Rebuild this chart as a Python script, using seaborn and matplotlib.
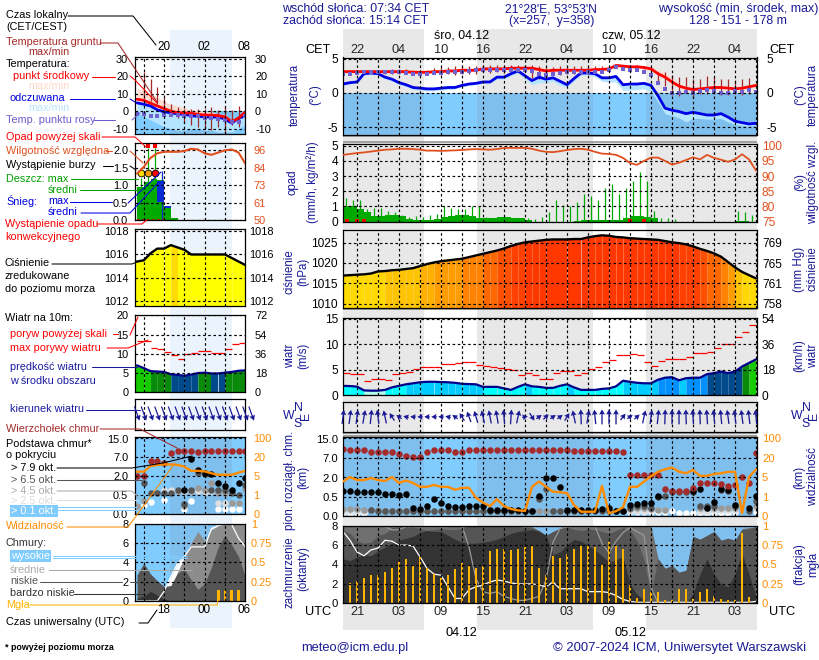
#!/usr/bin/env python3
import numpy as np
import matplotlib
matplotlib.use('Agg')
import matplotlib.pyplot as plt
from matplotlib.lines import Line2D
import seaborn as sns

W, H = 820, 660
nan = float('nan')

# --- main meteogram, hourly from 19 UTC
hours = list(range(60))
temp_mid = [3.1,3.1,3.1,3.1,3.1,3.1,3.1,3.1,3.1,3.1,3.0,3.0,3.0,3.1,3.1,3.2,3.2,3.3,3.3,3.3,
            3.5,3.5,3.5,3.5,3.6,3.6,3.6,3.6,3.4,3.2,3.3,3.3,3.3,3.3,3.3,3.3,3.4,3.4,3.5,4.0,
            3.9,3.8,3.8,3.7,3.5,2.8,2.3,1.6,1.0,0.7,0.5,0.6,0.7,0.8,0.8,0.7,0.6,0.7,0.9,1.1]
temp_hi = [3.3,3.3,3.3,3.3,3.3,3.3,3.3,3.3,3.3,3.3,3.2,3.2,3.2,3.3,3.3,3.4,3.4,3.5,3.5,3.5,
           3.7,3.7,3.7,3.8,3.9,3.9,3.9,3.9,3.8,3.5,3.6,3.6,3.6,3.6,3.6,3.6,3.7,3.7,3.8,4.2,
           4.1,4.0,4.0,3.9,3.8,3.4,3.0,2.2,1.4,1.0,0.7,0.8,0.9,1.0,1.0,0.9,0.8,0.9,1.1,1.3]
feels = [1.3,1.5,1.6,2.8,2.9,2.8,2.3,2.0,1.5,1.2,0.8,0.7,0.6,0.6,0.7,0.8,0.8,1.1,1.3,1.4,
         1.6,1.6,2.3,2.3,2.8,3.2,2.5,1.8,2.3,2.0,2.2,1.7,1.2,2.1,2.9,2.9,2.8,2.2,2.2,2.4,
         1.2,1.3,1.3,1.4,1.1,-0.4,-2.2,-2.5,-2.7,-3.0,-2.8,-3.0,-3.2,-3.2,-3.0,-3.5,-4.1,-4.3,-4.5,-4.4]
feels_lo = [1.1,1.3,1.4,2.6,2.7,2.6,2.0,1.7,1.2,0.9,0.5,0.4,0.3,0.3,0.4,0.5,0.6,0.9,1.1,1.2,
            1.4,1.4,2.0,2.0,2.5,2.9,2.0,1.2,1.5,1.5,1.7,1.1,0.8,1.7,2.6,2.6,2.4,1.7,1.6,1.6,
            0.4,0.4,0.5,0.6,0.2,-1.3,-3.0,-3.3,-3.6,-4.2,-3.7,-3.7,-3.8,-3.8,-3.7,-4.2,-4.6,-4.7,-4.8,-4.6]
dew = [2.7,2.7,2.9,3.0,3.0,3.0,3.0,3.0,3.0,2.9,2.8,2.8,2.8,2.9,2.9,3.0,3.1,3.1,3.2,3.3,
       3.4,3.4,3.4,3.4,3.4,3.4,3.4,3.2,2.7,2.6,2.7,2.9,3.0,3.0,3.0,3.0,3.1,3.1,3.3,3.7,
       3.5,3.4,3.3,3.1,2.6,1.5,0.6,0.0,0.0,0.1,0.0,0.3,0.4,0.3,0.0,0.0,0.3,0.2,0.4,0.2]
ground_max = [nan,nan,nan,nan,nan,nan,3.4,3.5,3.5,3.5,3.3,3.3,3.3,3.6,3.7,3.8,3.9,3.9,3.9,3.9,
              4.0,4.0,4.0,4.0,4.0,4.0,4.0,4.1,3.9,3.7,3.8,3.9,3.9,3.9,3.9,3.9,3.9,3.9,3.8,4.2,
              4.1,4.0,4.0,3.9,3.7,3.0,3.0,2.6,2.3,2.3,2.1,2.0,2.4,2.3,2.0,2.0,1.9,2.1,2.2,nan]
ground_min = [nan,nan,nan,nan,nan,nan,2.8,2.7,2.8,2.7,2.7,2.7,2.8,2.7,2.6,2.7,2.6,2.7,2.8,2.8,
              3.0,2.9,3.0,2.9,3.0,3.0,3.0,2.2,2.1,2.6,2.6,2.6,2.7,2.7,2.8,2.7,2.9,2.9,3.1,3.8,
              3.7,3.6,3.6,3.5,3.2,1.5,1.0,-0.3,-0.5,0.0,-0.8,-0.2,-0.2,-0.2,-0.3,-0.3,-0.2,-0.3,-0.2,nan]

rain_avg = [1.05,1.05,0.8,0.6,0.35,0.35,0.4,0.4,0.35,0.15,0.1,0.1,0.1,0.15,0.3,0.35,0.4,0.4,0.35,0.25,
            0.2,0.25,0.3,0.3,0.25,0.2,0.08,0,0,0,0,0,0,0.05,0.1,0.1,0.1,0.1,0.1,0.12,
            0.2,0.35,0.38,0.3,0.2,0,0,0,0,0,0,0,0,0,0,0,0.05,0.05,0,0]
rain_max = [1.55,1.4,1.45,0.8,0.9,0.9,0.7,0.6,0.45,0.3,0.35,0.3,0.4,0.5,1.0,0.9,0.8,0.8,1.0,1.0,
            0.3,0.2,0.2,0.15,0.2,0.15,0.2,0.15,0.3,0.6,1.4,1.1,1.05,1.3,1.8,1.7,1.45,2.2,2.5,1.8,
            2.2,2.7,3.3,2.7,0.7,0.2,0.2,0.15,0,0,0,0,0,0,0,0,0.7,0.65,0.4,0]
conv_t = [0.5, 2, 3, 41, 43]
humidity = [97,97.3,97.6,97.8,98.1,98.4,98.7,98.8,99,99,98.9,98.7,98.4,98.4,98.3,98.4,98.5,98.6,98.8,98.9,
            98.8,98.7,98.9,99.3,99.3,99.3,99.3,99,98.4,98,97.9,98.2,98.6,98.9,99,98.7,98,97.4,97.3,97,
            96,94.3,93.7,95,96.1,96.1,95,93.8,94.4,95.3,96.2,95.5,97,96,95.4,94.7,95.5,97.2,95.5,91.8]
pressure = [1016.9,1017,1017.1,1017.2,1017.4,1017.9,1018,1018.2,1018.3,1018.5,1018.7,1019.2,1019.7,1020.1,1020.4,
            1020.6,1020.8,1021,1021.4,1021.8,1022.2,1022.6,1023,1023.5,1024.1,1024.6,1025,1025.2,1025.4,1025.6,
            1025.7,1025.7,1025.7,1025.8,1025.8,1026.2,1026.5,1026.7,1026.6,1026.3,1026.2,1026,1025.9,1025.8,1025.7,
            1025.6,1025.3,1025,1024.8,1024.5,1024,1023.4,1022.9,1022.3,1021.5,1020.2,1018.9,1017.8,1017,1016.2]
wind = [1.8,1.75,1.65,0.9,0.85,0.85,1.0,1.5,1.8,2.1,2.3,2.5,2.6,2.6,2.55,2.5,2.4,2.2,2.15,2.1,
        1.6,1.6,1.6,1.3,1.0,1.6,2.1,1.7,1.6,1.4,1.4,1.8,2.1,1.5,1.0,1.0,1.0,1.2,1.3,1.7,
        2.8,2.6,2.4,2.3,2.3,3.0,3.4,3.5,2.9,3.3,3.4,3.4,4.1,4.3,4.6,4.3,4.6,5.6,6.3,7.0]
gust = [4.3,4.1,4.1,2.8,3.1,3.1,2.9,4.1,4.3,4.5,5.1,5.5,5.5,5.5,6.1,6.1,6.3,6.5,6.5,5.9,
        5.7,5.5,5.3,5.1,4.9,4.0,4.3,3.9,3.2,3.2,4.3,4.7,4.7,3.9,4.3,5.1,5.5,6.5,6.8,7.8,
        7.8,8.0,7.8,6.5,5.7,6.7,7.0,7.0,7.0,7.4,8.2,8.2,8.5,9.2,10,10,11.4,12.4,13.8]
wind_dir = [20,20,20,25,15,-20,-30,-60,-75,-85,-88,-90,-90,-90,-88,-85,-75,-60,-45,-38,
            -32,-28,-25,-12,10,30,85,120,75,70,75,75,60,-30,-5,25,-15,0,0,0,
            65,75,72,30,20,15,5,0,0,-5,-10,-5,-10,-15,-15,-20,-20,-20,-18,-15]

cloud_top = [10.8,10.4,10.4,10.4,9.7,9.5,9.5,9.5,8.8,8.1,7.7,7.4,9.7,10.4,10.4,10.4,9.7,9.7,10.4,10.4,
             10.4,10.4,10.4,10.4,10.4,10.4,10.4,10.4,10.4,10.4,10.3,10.3,10.3,10,10,10,10,10,10,10,
             9.7,2.7,2.7,2.7,2.7,2.7,1.13,0.93,0.93,0.93,1.2,1.6,1.6,1.6,1.5,1.34,1.45,2.1,1.6,9.3]
base_79 = [0.95,0.95,0.9,0.9,0.9,0.9,0.75,0.7,0.65,0.7,0.22,0.19,0.26,0.44,0.33,0.27,0.24,0.23,0.25,0.26,
           0.25,0.15,0.15,0.15,0.15,0.15,0.13,0.13,0.55,2.0,2.0,1.3,0.15,0.15,0.15,0.15,0.15,0.17,0.22,0.14,
           0.14,0.28,0.3,0.33,0.33,0.54,nan,nan,nan,nan,0.93,1.1,0.22,0.37,1.1,1.0,0.28,nan,0.2,0.56]
base_65 = [nan,nan,nan,nan,0.15,0.13,0.13,0.13,0.13,0.13,0.13,0.13,0.13,0.13,0.13,0.13,0.13,0.13,0.13,0.13,
           0.13,0.13,0.13,0.13,0.13,0.13,0.13,0.13,0.45,1.1,0.13,0.13,0.13,0.13,0.13,0.13,0.13,0.13,0.13,0.13,
           0.13,0.22,0.25,0.25,0.2,0.5,0.55,0.85,0.85,0.85,0.85,0.25,0.25,0.25,1.0,0.95,0.25,nan,0.13,0.4]
base_45 = [0.17,0.18,0.17,0.16,0.15,0.15,0.14,0.14,0.14,0.14,0.14,0.14,0.14,0.14,0.14,0.14,0.14,0.14,0.14,0.14,
           0.14,0.14,0.14,0.14,0.14,0.14,0.14,0.14,0.14,0.14,0.14,0.14,0.14,0.14,0.14,0.14,0.14,0.14,0.14,0.14,
           0.14,0.17,0.2,0.2,0.17,0.16,0.16,nan,nan,nan,nan,0.2,0.2,0.2,0.2,0.2,0.2,nan,nan,0.25]
base_25 = [0.12,0.12,0.12,0.12,nan,nan,nan,nan,nan,nan,nan,nan,nan,nan,nan,nan,nan,nan,nan,nan,
           nan,nan,nan,nan,nan,nan,nan,nan,nan,nan,nan,nan,nan,nan,nan,nan,nan,nan,nan,nan,
           nan,0.14,0.14,0.14,0.15,0.15,0.15,nan,nan,nan,nan,0.14,0.14,0.15,0.15,0.15,0.15,nan,nan,0.2]
base_01 = [0.08,0.08,0.08,0.08,nan,nan,nan,nan,nan,nan,nan,nan,nan,nan,nan,nan,nan,nan,nan,nan,
           nan,nan,nan,nan,nan,nan,nan,nan,nan,nan,nan,nan,nan,nan,nan,nan,nan,nan,nan,nan,
           nan,0.1,0.1,0.1,0.1,0.1,0.1,0.12,0.08,0.08,0.09,0.08,0.08,0.08,0.08,0.08,0.1,nan,nan,0.1]
visib = [4.1,5.1,4.4,4.4,4.8,4.4,4.2,5.1,3.8,4.3,3.8,3.0,3.0,3.4,3.0,3.0,2.4,2.8,2.8,0.94,
         0.69,0.51,0.86,0.51,0.36,0.29,0.26,3.0,4.1,3.0,2.0,1.9,1.7,0.57,0.22,0.22,0.22,3.2,0.14,0.25,
         0.45,3.0,3.0,4.1,5.7,9.2,11,12.4,9.2,8,10.5,6,6,7.4,8,9,9,0.14,5.1,11]

cloud_top_fill = [8,8,8,8,8,8,8,8,8,8,8,8,8,8,8,8,8,8,8,8,
                  8,8,8,8,8,8,8,7.9,7.5,7.0,7.4,7.8,8,8,8,8,8,8,8,8,
                  8,8,8,8,8,4.6,3.6,3.9,3.2,3.4,6.9,6.6,7.0,7.4,6.5,6.7,6.5,7.7,7.8,7.9]
cloud_low = [7.5,7.2,6.4,6.2,6.3,7.0,7.2,7.8,7.9,7.9,7.9,7.7,7.5,7.6,7.7,7.6,7.6,7.7,8,8,
             8,8,8,8,7.9,7.9,7.8,7.8,7.5,7.0,7.4,7.7,7.9,7.6,7.5,7.6,7.6,7.4,7.2,7.5,
             7.8,7.5,6.5,4.5,1.0,4.6,3.6,3.9,3.2,3.4,6.9,6.6,7.0,7.4,6.5,6.7,6.5,7.6,7.7,7.9]
cloud_vlow = [4.6,4.4,4.8,5,4.9,5.4,5.8,6.2,6.5,6.7,6.9,7.3,7.5,7.4,7.4,7.0,6.6,6.3,6.2,6.2,
              6.3,6.4,6.6,6.9,7.2,7.4,7.5,7.6,7.4,7.0,5,5.3,6,6.6,6.4,6,5.5,4.9,4.2,4.5,
              4.8,2,0.9,0.4,0,0,0,0,0,0,1,3,4.6,3,2,1.7,3,5.2,3,0.7]
high_line = [7.4,6.5,5.3,4.9,5.5,5.7,6.5,6.4,6.0,6.0,5.9,4.8,3.6,3.0,2.9,1.7,0.5,0.5,1.4,1.7,
             1.9,2.2,2.4,2.3,2.1,2.0,2.0,2.0,1.9,1.7,2.2,1.5,1.5,1.5,1.5,1.2,1.2,1.2,1.1,0.8,
             0.4,0.2,0.1,0.1,0.1,0.1,0.1,0.1,0.1,0.1,0.1,0.1,0.1,0.1,0.1,0.1,0.1,0.1,0.1,0.2]
mid_line = [8,8,8,8,8,8,7.9,7.55,7.6,7.9,7.9,7.9,7.9,7.9,7.9,7.9,8,8,5.8,2.5,
            1.2,1.0,1.2,0.7,0.5,0.3,0.3,0.5,0.7,2.4,6.3,7.7,7.9,7.9,7.9,7.9,7.9,6.2,5.2,6.4,
            7.3,7.8,7.4,7.0,1.7,0,0,0,0,0,0,0,0,0,0,0,0,0,0,0]
fog = [0.23,0.26,0.29,0.32,0.36,0.37,0.4,0.45,0.53,0.57,0.48,0.6,0.46,0.38,0.33,0.36,0.44,0.52,0.48,0.45,
       0.48,0.67,0.7,0.7,0.69,0.7,0.72,0.74,0.45,0.36,0.61,0.58,0.64,0.7,0.74,0.74,0.73,0.49,0.79,0.74,
       0.7,0.25,0.07,0.19,0.15,0.14,0.04,0.04,0.19,0.19,0.06,0.14,0.18,0.1,0.06,0.04,0.04,0.9,0.08,0]

# --- small key panels, hourly from 14 UTC
key_hours = list(range(17))
key_mid = [6.9,6.2,4.6,3,1.5,0,-0.8,-1,-1.2,-1.8,-2.2,-2.3,-2.5,-3.3,-6,-4,-0.4]
key_hi = [13,12,10,8,6,4,3,2,1,0.5,0,-0.5,-1.5,-2.5,-5,-3,0.5]
key_feels = [4.8,4,3,0.8,-0.3,-1,-1.5,-1.8,-2.5,-3,-3.2,-3.4,-3.4,-4.5,-6.9,-4,-2.8]
key_feels_lo = [-1,-3,-5,-7,-9,-10,-11,-11,-10,-10,-11,-11,-12,-12,-12,-10,-8]
key_dew = [-1.5,-1.5,-2.5,-2.5,-2,-2,-2,-2.5,-3,-3,-4,-4,-4.5,-5,-6,-6,-3]
key_ground_max = [nan,22.6,18.8,14,8,4.4,2.5,1.5,1.5,1.5,1.5,2.5,0.5,2.5,0.5,3,nan]
key_ground_min = [nan,7,6,4,0,-2.3,-4.2,-7,-8,-9,-10,-11,-9,-13,-8,-9,nan]
key_rain = [0.96,1.1,1.18,1.15,0.38,0.07,0,0,0,0,0,0,0,0,0,0,0]
key_humid = [80.6,85,91,94,95,95,95,95.5,97,96.5,94,93,94.5,96,96.5,94.5,87.2]
key_press = [1015.4,1015.5,1016.1,1016.5,1016.5,1016.8,1016.6,1016.4,1016,1016,1016,1016,1016,1016,1015.7,1015.4,1015.1]
key_wind = [7,6.3,5.5,5.4,5.3,4.7,4.5,4.3,4.6,5,5.1,4.9,4.9,5.1,5.3,5.6,5.7]
key_gust = [13.4,13.4,11.6,11.3,10.5,9.6,8.7,9.9,10.3,10.7,10.7,10.3,10.2,11.3,12.6,12.9]
key_dir = [160]*18
key_top = [2,2,6,6,5.6,8.8,9.6,9.6,9.6,9.2,9.7,9.7,9.6,9.6,9.6,9.6,9.6]
key_79 = [nan,nan,nan,nan,nan,nan,nan,0.9,6.7,3.7,3,2.7,1.5,1.2,0.9,1.5,1.85]
key_65 = [nan,1.5,0.67,0.67,0.67,0.67,0.9,0.27,0.9,3,2.6,0.9,0.9,0.9,0.65,0.5,1.3]
key_45 = [0.2,0.35,nan,nan,nan,nan,0.85,0.2,0.8,1.1,0.9,1.5,0.65,0.65,0.3,0.3,1]
key_25 = [0.2,nan,nan,nan,0.9,0.9,0.85,0.85,0.85,0.8,0.75,0.8,0.3,0.3,0.3,0.3,nan]
key_01 = [nan,0.23,0.33,nan,0.38,nan,nan,0.12,0.35,nan,nan,nan,0.12,0.12,0.12,0.12,nan]
key_vis = [8.3,8.3,12.7,13.5,14,14,13.5,12.2,8.9,8.9,8.5,7,5.8,5.8,5.8,7.5,8.9]
key_top_fill = [0,0,0,0,0,1.4,3,4.5,6,7.2,6.2,7.4,7.8,8,8,7.9,7.9]
key_low = [2.7,3.9,2.8,2.1,1.5,1.6,2.9,3.3,2.2,1.2,1.8,3.5,5.6,6.8,5.8,4.6,2.5]
key_vlow = [0.3,0.5,1,0.6,0.2,0,0,0,0,0,0,0,0,0,0,0,0]
key_high = [0,0,0,0,1.0,2.5,3.9,4.6,5.6,5.6,5.6,7.5,7.8,8,7.9,6.5,5.6]
key_fog = [0,0,0,0,0,0,0,0,0,0,0,0,0.14,0.14,0.14,0.14,0]

# axis labels
local_main = ['22','04','10','16','22','04','10','16','22','04']
utc_main = ['21','03','09','15','21','03','09','15','21','03']

sns.set_theme(style='white')
plt.rcParams['font.family'] = ['Liberation Sans', 'DejaVu Sans']
plt.rcParams['axes.linewidth'] = 0.9

fig = plt.figure(figsize=(W / 100, H / 100), dpi=100, facecolor='white')
bg = fig.add_axes([0, 0, 1, 1], zorder=-5)
bg.set_xlim(0, W)
bg.set_ylim(H, 0)
bg.axis('off')
# night bands behind all panels
for x0, x1 in [(343, 424), (477, 593), (646, 757)]:
    bg.fill_between([x0, x1], 29, 630, color='#e8e8e8', lw=0)
bg.fill_between([170, 232], 30, 628, color='#ebf3fc', lw=0)
# grey shadow rims of the main panels
for yy in [136.2, 142.4, 309.3, 433.2, 436.2]:
    bg.hlines(yy, 343, 757, color='#8c8c8c', lw=1.1)

NAVY = '#1a1a96'
ORANGE = '#ff8c00'
HUM = '#e0501e'
BROWN = '#a52a2a'
DAY, NIGHT = '#80ccff', '#7fbfee'
main_night = [(0, 11.6), (19.1, 35.7), (43.3, 60)]
key_night = [(4.9, 14)]

km_breaks = [0, 0.5, 2, 7, 15, 19]
vis_breaks = [0, 1, 5, 20, 100, 180]
idx_breaks = [0, 1, 2, 3, 4, 5]


def rect(l, t, r, b):
    return [l / W, 1 - b / H, (r - l) / W, (b - t) / H]


def panel(box, xlim, xticks, ylim, yticks, ylabels, ylim2, yticks2, ylabels2,
          color2='black', fs=8.6, padl=3.6, padr=3.6):
    ax = fig.add_axes(rect(*box))
    ax.patch.set_visible(False)
    ax2 = fig.add_axes(rect(*box), sharex=ax)
    ax2.patch.set_visible(False)
    ax.set_xlim(*xlim)
    ax.set_ylim(*ylim)
    ax.set_yticks(yticks)
    ax.set_yticklabels(ylabels, fontsize=fs)
    ax2.set_ylim(*ylim2)
    ax2.set_yticks(yticks2)
    ax2.set_yticklabels(ylabels2, fontsize=fs, color=color2)
    ax2.yaxis.tick_right()
    ax.tick_params(axis='y', length=0, pad=padl, colors='black')
    ax2.tick_params(axis='y', length=0, pad=padr)
    ax2.set_xticks(xticks)
    ax2.tick_params(axis='x', length=0, labelbottom=False, labelsize=9.2)
    ax.tick_params(axis='x', length=0, labelbottom=False)
    ax2.set_axisbelow(False)
    ax2.grid(True, color='black', lw=0.85, ls=(0, (2.2, 2.2)))
    for s in ax.spines.values():
        s.set_visible(False)
    for s in ax2.spines.values():
        s.set_color('black')
    return ax, ax2


def blue_below(ax, x0, x1, lo, hi, nights):
    ax.fill_between([x0, x1], lo, hi, color=DAY, lw=0, zorder=0.2)
    for a, b in nights:
        ax.fill_between([a, min(b, x1)], lo, hi, color=NIGHT, lw=0, zorder=0.3)


def line(ax, x, y, color, lw=2.0, z=3):
    sns.lineplot(x=x, y=y, ax=ax, color=color, lw=lw, legend=False, zorder=z, errorbar=None, sort=False)
    ax.set_xlabel('')
    ax.set_ylabel('')


def dots(ax, x, y, color, size=20, marker='o', z=3):
    sns.scatterplot(x=x, y=y, ax=ax, color=color, s=size, marker=marker, linewidth=0, legend=False, zorder=z)
    ax.set_xlabel('')
    ax.set_ylabel('')


def temp_panel(ax, x, mid, hi, fl, fl_lo, dw, g_max, g_min, gw=0.9):
    ax.fill_between(x, mid, hi, color='#ffdcd0', lw=0, zorder=1)
    ax.fill_between(x, mid, [m - 0.2 for m in mid], color='#ffdcd0', lw=0, zorder=1)
    ax.fill_between(x, fl, fl_lo, color='#b4e4ff', lw=0, zorder=1.2)
    x2 = [a for a, b in zip(x, g_max) if b == b]
    ax.vlines(x2, [b for b in g_min if b == b], [b for b in g_max if b == b], color=BROWN, lw=gw, zorder=2)
    line(ax, x, fl, '#0000e6')
    line(ax, x, mid, '#ff0000')
    dots(ax, x, dw, '#7060d0', size=7, marker='s', z=4)


pressure_bins = [1016.7, 1017, 1018, 1019, 1020, 1021, 1022, 1023, 1024, 1025]
pressure_cols = ['#ffff00', '#ffdc00', '#ffd800', '#ffc400', '#ffb000', '#ff9c00', '#ff8200',
                 '#ff6800', '#ff5000', '#ff4000', '#ff3800']
wind_bins = [1, 2, 3, 4, 5, 6]
wind_cols = ['#b0ffee', '#00ffff', '#00ccff', '#0090ff', '#004a8c', '#0a8a0a', '#14cc00']


def columns(ax, x, y, base, bins, cols):
    for i in range(len(x) - 1):
        c = cols[int(np.digitize(y[i], bins))]
        ax.fill_between([x[i], x[i + 1]], base, [y[i], y[i + 1]], color=c, lw=0, zorder=1, antialiased=False)


def cloud_base_panel(ax, ax2, x, top, b79, b65, b45, b25, b01, vis, s=22):
    for yy, c in [(b01, 'white'), (b25, '#dddddd'), (b45, '#999999'), (b65, '#555555'), (b79, 'black')]:
        dots(ax, x, yy, c, size=s)
    dots(ax, x, top, BROWN, size=s)
    line(ax2, x, vis, ORANGE, lw=1.7)


def cloud_panel(ax, ax2, x, top, low, vlow, high, mid, fg, colors, bw, high_fill=None):
    if high_fill is not None:
        ax.fill_between(x, 0, high_fill, color='white', lw=0, zorder=1)
    ax.fill_between(x, 0, top, color=colors[0], lw=0, zorder=1.1)
    ax.fill_between(x, 0, low, color=colors[1], lw=0, zorder=1.2)
    ax.fill_between(x, 0, vlow, color=colors[2], lw=0, zorder=1.3)
    if mid is not None:
        line(ax, x, mid, '#999999', lw=0.9, z=2)
    line(ax, x, high, 'white', lw=0.9, z=2.1)
    ax2.bar(x, fg, width=bw, color='#ffb400', lw=0, zorder=1.5)


# ---------- main column ----------
MX0, MX1 = 343, 757
mxlim = (0, 59.14)
mticks = list(range(2, 60, 3))


def tick_words(words):
    out = []
    for i in range(len(mticks)):
        out.append(words[i // 2] if i % 2 == 0 and i // 2 < len(words) else '')
    return out


ax, ax2 = panel((MX0, 57.5, MX1, 135), mxlim, mticks, (-6.1, 5.15), [-5, 0, 5], ['-5', '0', '5'],
                (-6.1, 5.15), [-5, 0, 5], ['-5', '0', '5'], padr=7)
blue_below(ax, 0, 59.14, -6.1, 0, main_night)
temp_panel(ax, hours, temp_mid, temp_hi, feels, feels_lo, dew, ground_max, ground_min)
ax2.tick_params(axis='x', labeltop=True, pad=1)
ax2.set_xticklabels(tick_words(local_main))

ax, ax2 = panel((MX0, 143.5, MX1, 221.5), mxlim, mticks, (0, 5.15), [0, 1, 2, 3, 4, 5], list('012345'),
                (75, 100.75), [75, 80, 85, 90, 95, 100], ['75', '80', '85', '90', '95', '100'], color2=HUM)
ax.bar(hours, rain_avg, width=1, align='edge', color='#00aa00', lw=0, zorder=1)
ax.vlines([h + 0.4 for h in hours], 0, rain_max, color='#00aa00', lw=0.9, zorder=1.1)
dots(ax, conv_t, [0.04] * len(conv_t), '#ff0000', size=7, marker='s', z=3)
line(ax2, hours, humidity, HUM, lw=1.3)

ax, ax2 = panel((MX0, 230, MX1, 308), mxlim, mticks, (1009, 1028), [1010, 1015, 1020, 1025],
                ['1010', '1015', '1020', '1025'], (756.8, 771.1), [757.6, 761.3, 765, 768.8],
                ['758', '761', '765', '769'])
columns(ax, hours + [60], pressure + [pressure[-1]], 1009, pressure_bins, pressure_cols)
line(ax, hours, pressure, 'black', lw=1.7)

ax, ax2 = panel((MX0, 317.7, MX1, 395), mxlim, mticks, (0, 15.2), [0, 5, 10, 15], ['0', '5', '10', '15'],
                (0, 54.7), [0, 18, 36, 54], ['0', '18', '36', '54'])
columns(ax, hours, wind, 0, wind_bins, wind_cols)
ax.hlines(gust, hours[:-1], hours[1:], color='#ff0000', lw=0.9, zorder=3)
line(ax, hours, wind, '#00008b', lw=1.6)

ax, ax2 = panel((MX0, 401.7, MX1, 432), mxlim, mticks, (-1, 1), [], [], (-1, 1), [], [])
wr = np.radians(wind_dir)
ax2.quiver(hours, [0] * 60, 5.5 * np.sin(wr), 15 * np.cos(wr), units='dots', scale_units='dots', scale=1,
           width=1.3, headwidth=4.5, headlength=4, headaxislength=3.6, pivot='mid', color='#1a1a96',
           zorder=4, clip_on=False)

ax, ax2 = panel((MX0, 437.3, MX1, 516), mxlim, mticks, (0, 15.4), [0, 0.5, 2, 7, 15],
                ['0.0', '0.5', '2.0', '7.0', '15.0'], (0, 104), [0, 1, 5, 20, 100],
                ['0', '1', '5', '20', '100'], color2=ORANGE)
ax.set_yscale('function', functions=(lambda v: np.interp(v, km_breaks, idx_breaks),
                                     lambda v: np.interp(v, idx_breaks, km_breaks)))
ax2.set_yscale('function', functions=(lambda v: np.interp(v, vis_breaks, idx_breaks),
                                      lambda v: np.interp(v, idx_breaks, vis_breaks)))
ax.set_ylim(0, 15.4)
ax.set_yticks([0, 0.5, 2, 7, 15])
ax.set_yticklabels(['0.0', '0.5', '2.0', '7.0', '15.0'], fontsize=8.1)
ax.minorticks_off()
ax2.set_ylim(0, 104)
ax2.set_yticks([0, 1, 5, 20, 100])
ax2.set_yticklabels(['0', '1', '5', '20', '100'], fontsize=8.1, color=ORANGE)
ax2.minorticks_off()
ax.fill_between([0, 59.14], 0, 15.4, color=DAY, lw=0, zorder=0.2)
for a, b in main_night:
    ax.fill_between([a, min(b, 59.14)], 0, 15.4, color=NIGHT, lw=0, zorder=0.3)
cloud_base_panel(ax, ax2, hours, cloud_top, base_79, base_65, base_45, base_25, base_01, visib)

ax, ax2 = panel((MX0, 525.7, MX1, 603.3), mxlim, mticks, (0, 8), [0, 2, 4, 6, 8], list('02468'),
                (0, 1), [0, 0.25, 0.5, 0.75, 1], ['0', '0.25', '0.5', '0.75', '1'], color2=ORANGE, fs=8.1)
blue_below(ax, 0, 59.14, 0, 8, main_night)
cloud_panel(ax, ax2, hours, cloud_top_fill, cloud_low, cloud_vlow, high_line, mid_line, fog,
            ('#707070', '#555555', '#333333'), 0.42)
ax2.tick_params(axis='x', labelbottom=True, pad=2)
ax2.set_xticklabels(tick_words(utc_main))

# ---------- key column ----------
KX0, KX1 = 135.3, 245.3
kxlim = (-0.25, 16)
kticks = [1, 4, 7, 10, 13]
kfs = 7.9

ax, ax2 = panel((KX0, 57.3, KX1, 134.3), kxlim, kticks, (-13.3, 31), [-10, 0, 10, 20, 30],
                ['-10', '0', '10', '20', '30'], (-13.3, 31), [-10, 0, 10, 20, 30],
                ['-10', '0', '10', '20', '30'], fs=kfs, padl=5, padr=7)
blue_below(ax, -0.25, 16, -13.3, 0, key_night)
temp_panel(ax, key_hours, key_mid, key_hi, key_feels, key_feels_lo, key_dew, key_ground_max, key_ground_min)

ax, ax2 = panel((KX0, 143.3, KX1, 220), kxlim, kticks, (0, 2.2), [0, 0.5, 1, 1.5, 2],
                ['0.0', '0.5', '1.0', '1.5', '2.0'], (50, 100.6), [50, 61.5, 73, 84.5, 96],
                ['50', '61', '73', '84', '96'], color2=HUM, fs=kfs, padl=5, padr=6)
ax.bar(key_hours, key_rain, width=1, align='edge', color='#00aa00', lw=0, zorder=1)
ax.bar([3], [0.6], bottom=[0.53], width=1, align='edge', color='#0a2ad2', lw=0, zorder=1.1)
ax.bar([4], [0.08], bottom=[0.33], width=1, align='edge', color='#0a2ad2', lw=0, zorder=1.1)
ax.vlines([0.6, 1.6, 2.7], 0, [1.2, 2.07, 2.07], color='#00aa00', lw=0.9, zorder=1.2)
ax.vlines([3.7], 0, [1.4], color='#0a2ad2', lw=0.9, zorder=1.2)
ax.hlines([0.01], 0, 4, color='#ff0000', lw=1.2, ls=(0, (1.5, 1.5)), zorder=2)
for xx, c in zip([0.6, 1.6, 2.7], ['#ffe000', '#ffa000', '#ff0000']):
    ax.scatter([xx], [1.35], s=24, color=c, edgecolor='black', lw=0.6, zorder=3)
dots(ax, [1.6, 2.7], [2.13, 2.13], '#ff0000', size=8, marker='s', z=3)
line(ax2, key_hours, key_humid, HUM, lw=1.5)

ax, ax2 = panel((KX0, 229.3, KX1, 306), kxlim, kticks, (1011.6, 1018.15), [1012, 1014, 1016, 1018],
                ['1012', '1014', '1016', '1018'], (1011.6, 1018.15), [1012, 1014, 1016, 1018],
                ['1012', '1014', '1016', '1018'], fs=kfs, padl=5, padr=3)
columns(ax, [-0.25] + key_hours[1:] + [17], key_press[:1] + key_press[1:] + key_press[-1:], 1011.6,
        pressure_bins, pressure_cols)
line(ax, key_hours, key_press, 'black', lw=1.7)

ax, ax2 = panel((KX0, 315, KX1, 392.3), kxlim, kticks, (0, 20.1), [0, 5, 10, 15, 20],
                ['0', '5', '10', '15', '20'], (0, 72.4), [0, 18, 36, 54, 72],
                ['0', '18', '36', '54', '72'], fs=kfs, padl=5, padr=7)
columns(ax, [-0.25] + key_hours[1:], key_wind, 0, wind_bins, wind_cols)
ax.hlines(key_gust, key_hours[:-1], key_hours[1:], color='#ff0000', lw=0.9, zorder=3)
line(ax, key_hours, key_wind, '#00008b', lw=1.6)

ax, ax2 = panel((KX0, 398.7, KX1, 430), kxlim, kticks, (-1, 1), [], [], (-1, 1), [], [])
kr = np.radians(key_dir)
ax2.quiver(key_hours + [16.9], [0.05] * 18, 15 * np.sin(kr), 15 * np.cos(kr),
           units='dots', scale_units='dots', scale=1, width=1.2, headwidth=5, headlength=4.5,
           headaxislength=4, pivot='mid', color='#1a1a96', zorder=4, clip_on=False)

ax, ax2 = panel((KX0, 436.7, KX1, 514), kxlim, kticks, (0, 15.4), [0, 0.5, 2, 7, 15],
                ['0.0', '0.5', '2.0', '7.0', '15.0'], (0, 104), [0, 1, 5, 20, 100],
                ['0', '1', '5', '20', '100'], color2=ORANGE, fs=kfs, padl=5, padr=6)
ax.set_yscale('function', functions=(lambda v: np.interp(v, km_breaks, idx_breaks),
                                     lambda v: np.interp(v, idx_breaks, km_breaks)))
ax2.set_yscale('function', functions=(lambda v: np.interp(v, vis_breaks, idx_breaks),
                                      lambda v: np.interp(v, idx_breaks, vis_breaks)))
ax.set_ylim(0, 15.4)
ax.set_yticks([0, 0.5, 2, 7, 15])
ax.set_yticklabels(['0.0', '0.5', '2.0', '7.0', '15.0'], fontsize=kfs)
ax.minorticks_off()
ax2.set_ylim(0, 104)
ax2.set_yticks([0, 1, 5, 20, 100])
ax2.set_yticklabels(['0', '1', '5', '20', '100'], fontsize=kfs, color=ORANGE)
ax2.minorticks_off()
ax.fill_between([-0.25, 16], 0, 15.4, color=DAY, lw=0, zorder=0.2)
for a, b in key_night:
    ax.fill_between([a, b], 0, 15.4, color=NIGHT, lw=0, zorder=0.3)
cloud_base_panel(ax, ax2, key_hours, key_top, key_79, key_65, key_45, key_25, key_01, key_vis)

ax, ax2 = panel((KX0, 523.7, KX1, 601), kxlim, kticks, (0, 8), [0, 2, 4, 6, 8], list('02468'),
                (0, 1), [0, 0.25, 0.5, 0.75, 1], ['0', '0.25', '0.5', '0.75', '1'],
                color2=ORANGE, fs=kfs, padl=5, padr=4)
blue_below(ax, -0.25, 16, 0, 8, key_night)
cloud_panel(ax, ax2, key_hours, key_top_fill, key_low, key_vlow, key_high, None, key_fog,
            ('#8c8c8c', '#555555', '#333333'), 0.42, high_fill=key_high)


# ---------- texts and callouts ----------
def txt(x, y, s, color='black', fs=7.8, ha='left', rot=0, **kw):
    fig.text(x / W, 1 - y / H, s, color=color, fontsize=fs, ha=ha, va='center', rotation=rot,
             rotation_mode='anchor' if rot == 0 else 'default', **kw)


def call(points, color, lw=0.75):
    xs = [p[0] / W for p in points]
    ys = [1 - p[1] / H for p in points]
    fig.add_artist(Line2D(xs, ys, color=color, lw=lw))


# header
HDR = '#1a1a96'
txt(282, 9, 'wschód słońca: 07:34 CET', HDR, 8.9)
txt(283, 21, 'zachód słońca: 15:14 CET', HDR, 8.9)
txt(505, 9, "21°28'E, 53°53'N", HDR, 8.7)
txt(509, 21, '(x=257,  y=358)', HDR, 8.7)
txt(818, 9, 'wysokość (min, środek, max)', HDR, 8.9, ha='right')
txt(738, 21, '128 - 151 - 178 m', HDR, 8.9, ha='center')
txt(462, 36, 'śro, 04.12', 'black', 8.9, ha='center')
txt(631, 36, 'czw, 05.12', 'black', 8.9, ha='center')
txt(331, 50, 'CET', 'black', 9.2, ha='right')
txt(769, 50, 'CET', 'black', 9.2)
txt(331, 612, 'UTC', 'black', 9.2, ha='right')
txt(769, 612, 'UTC', 'black', 9.2)
txt(461, 633, '04.12', 'black', 9.2, ha='center')
txt(631, 633, '05.12', 'black', 9.2, ha='center')
txt(301, 648, 'meteo@icm.edu.pl', HDR, 9.3)
txt(553, 648, '© 2007-2024 ICM, Uniwersytet Warszawski', HDR, 9.45)

# key column time ticks
for xx, s in [(164, '20'), (204.5, '02'), (244.5, '08')]:
    txt(xx, 47, s, 'black', 8.4, ha='center')
for xx, s in [(164, '18'), (204.5, '00'), (244.5, '06')]:
    txt(xx, 610, s, 'black', 8.4, ha='center')

# rotated axis titles
for x0, y0, s in [(295, 95, 'temperatura'), (315, 95, '(°C)'), (293, 182, 'opad'), (313, 182, '(mm/h, kg/m²/h)'),
                  (290, 272, 'ciśnienie'), (303, 272, '(hPa)'), (290, 356, 'wiatr'), (303, 356, '(m/s)'),
                  (290, 480, 'pion. rozciągł. chm.'), (303, 477, '(km)'), (290, 572, 'zachmurzenie'),
                  (303, 569, '(oktanty)'), (813, 95, 'temperatura'), (800, 95, '(°C)'),
                  (813, 182, 'wilgotność wzgl.'), (800, 182, '(%)'), (813, 269, 'ciśnienie'),
                  (799, 269, '(mm Hg)'), (813, 356, 'wiatr'), (799, 356, '(km/h)'), (813, 477, 'widzialność'),
                  (799, 477, '(km)'), (813, 564, 'mgła'), (799, 564, '(frakcja)')]:
    txt(x0, y0, s, HDR, 8.3, ha='center', rot=90)

# compass
for cx in [298, 806]:
    txt(cx - 9, 416, 'W', HDR, 8.8, ha='center')
    txt(cx, 408, 'N', HDR, 8.8, ha='center')
    txt(cx + 8, 416, 'E', HDR, 8.8, ha='center', rot=90)
    txt(cx, 424, 'S', HDR, 8.8, ha='center')

# key labels
GREEN = '#00a000'
RED = '#ff0000'
BLUE = '#0000e0'
DKB = '#1a1aa0'
PURP = '#6a5acd'
keys = [(6, 15, 'Czas lokalny', 'black'), (6, 27, '(CET/CEST)', 'black'), (6, 42, 'Temperatura gruntu', BROWN),
        (28, 52, 'max/min', BROWN), (6, 64, 'Temperatura:', 'black'), (13, 76, 'punkt środkowy', RED),
        (28, 86, 'max/min', '#ffd8c8'), (10, 98, 'odczuwana', BLUE), (28, 108, 'max/min', '#b4e4ff'),
        (6, 120, 'Temp. punktu rosy', PURP), (6, 137, 'Opad powyżej skali', RED),
        (6, 151, 'Wilgotność względna', HUM), (6, 165, 'Wystąpienie burzy', 'black'),
        (6, 179, 'Deszcz: max', GREEN), (48, 190, 'średni', GREEN), (6, 201, 'Śnieg:', BLUE), (48, 201, 'max', BLUE),
        (48, 212, 'średni', BLUE), (5, 224, 'Wystąpienie opadu', RED), (5, 237, 'konwekcyjnego', RED),
        (5, 263, 'Ciśnienie', 'black'), (5, 276, 'zredukowane', 'black'), (5, 289, 'do poziomu morza', 'black'),
        (5, 318, 'Wiatr na 10m:', 'black'), (10, 334, 'poryw powyżej skali', RED),
        (10, 348, 'max porywy wiatru', RED), (10, 367, 'prędkość wiatru', DKB), (10, 381, 'w środku obszaru', DKB),
        (10, 409, 'kierunek wiatru', DKB), (6, 429, 'Wierzchołek chmur', BROWN), (6, 444, 'Podstawa chmur*', 'black'),
        (6, 455, 'o pokryciu', 'black'), (11, 468, '> 7.9 okt.', 'black'), (11, 480, '> 6.5 okt.', '#555555'),
        (11, 491, '> 4.5 okt.', '#aaaaaa'), (11, 501, '> 2.5 okt.', '#dddddd'), (6, 526, 'Widzialność', ORANGE),
        (6, 543, 'Chmury:', '#333333'), (10, 570, 'średnie', '#aaaaaa'), (10, 581, 'niskie', '#555555'),
        (10, 593, 'bardzo niskie', '#333333'), (6, 605, 'Mgła', '#ffb400'), (6, 622, 'Czas uniwersalny (UTC)', 'black')]
for x0, y0, s, c in keys:
    txt(x0, y0, s, c)
box = dict(facecolor='#80ccff', edgecolor='none', pad=1)
txt(11, 511, '> 0.1 okt.', 'white', bbox=box)
txt(11, 556, 'wysokie', 'white', bbox=box)
txt(5, 648, '* powyżej poziomu morza', 'black', 6.4, fontweight='bold')

call([(68, 16), (133, 16), (156, 45)], 'black')
call([(100, 43), (118, 43), (157, 102)], BROWN)
call([(92, 77), (115, 77)], RED)
call([(130, 76), (135, 80), (157, 103)], RED)
call([(70, 99), (115, 99)], BLUE)
call([(130, 99), (135, 102)], BLUE)
call([(94, 120), (115, 120)], PURP)
call([(132, 120), (140, 113)], PURP)
call([(102, 137), (135, 137), (146, 147)], RED)
call([(106, 151), (112, 151)], HUM)
call([(130, 151), (143, 163)], HUM)
call([(103, 166), (113, 166)], 'black')
call([(130, 166), (136, 170)], 'black')
call([(71, 179), (138, 179)], GREEN)
call([(80, 190), (142, 190)], GREEN)
call([(70, 202), (112, 202)], BLUE)
call([(128, 203), (161, 172)], BLUE)
call([(81, 213), (130, 213), (159, 182)], BLUE)
call([(97, 224), (142, 224), (147, 220)], RED)
call([(52, 264), (132, 264), (137, 262)], 'black')
call([(113, 334), (118, 334)], RED)
call([(130, 335), (138, 317)], RED)
call([(107, 348), (128, 348), (148, 340)], RED)
call([(92, 367), (137, 367)], DKB)
call([(86, 410), (140, 410)], DKB)
call([(100, 429), (140, 429), (177, 448)], BROWN)
call([(57, 468), (132, 468), (163, 463), (192, 456)], 'black')
call([(57, 480), (142, 480)], '#555555')
call([(57, 491), (132, 491), (143, 502)], '#aaaaaa')
call([(57, 500), (137, 500)], '#dddddd')
call([(55, 507), (137, 507)], '#80ccff')
call([(55, 510), (137, 510)], '#80ccff')
call([(67, 527), (128, 527), (175, 463)], ORANGE)
call([(53, 555.5), (187, 555.5)], '#80ccff')
call([(53, 558), (187, 558)], '#80ccff')
call([(49, 570), (192, 570)], '#aaaaaa')
call([(40, 582), (122, 582)], '#555555')
call([(130, 582), (137, 582)], '#555555')
call([(74, 594), (143, 594)], '#333333')
call([(30, 605), (217, 605), (218, 600)], '#ffb400')
call([(139, 623), (148, 623), (157, 610)], 'black')

fig.savefig('out.png', dpi=100)
